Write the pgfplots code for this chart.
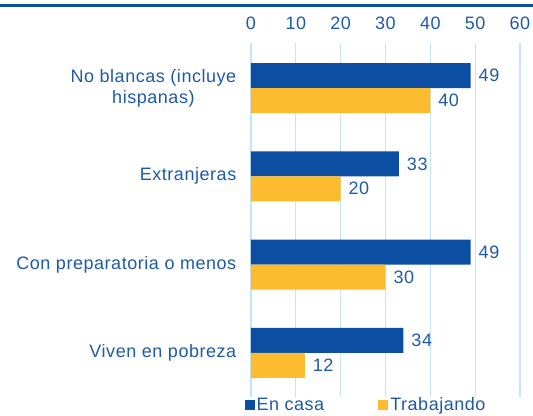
\documentclass[border=0pt]{standalone}
\usepackage{fontspec}
\setmainfont{Liberation Sans}[LetterSpace=3]
\usepackage{pgfplots}
\pgfplotsset{compat=1.18}

\definecolor{barblue}{HTML}{0B4EA2}
\definecolor{baryellow}{HTML}{FDBB2F}
\definecolor{txtblue}{HTML}{1E5AA8}
\definecolor{gridblue}{HTML}{C5E4F5}
\newcommand{\lbl}{\fontsize{13.5pt}{15.5pt}\selectfont}

\begin{document}
\begin{tikzpicture}
% top rule (picture is 533x416 px, 1px = 0.75pt)
\begin{scope}[x=0.75pt,y=-0.75pt]
  \draw[barblue, line width=2.4pt] (0,5.7) -- (533,5.7);
\end{scope}
\begin{axis}[
    at={(188.25pt,-297.75pt)}, anchor=south west,
    scale only axis,
    width=201.75pt, height=265.5pt,
    xbar, bar width=0.283,
    xmin=0, xmax=60, xtick distance=10,
    ymin=-0.51, ymax=3.5, y dir=reverse,
    ytick={0,1,2,3},
    yticklabels={{No blancas (incluye\\hispanas)}, Extranjeras, Con preparatoria o menos, Viven en pobreza},
    enlargelimits=false,
    axis line style={draw=none},
    major tick length=0pt,
    xticklabel pos=upper,
    xmajorgrids, ymajorgrids=false,
    grid style={gridblue, line width=0.9pt},
    /pgf/number format/assume math mode=true,
    tick label style={font=\lbl, text=txtblue},
    xticklabel style={yshift=6.75pt},
    yticklabel style={align=center, xshift=-7.5pt},
    nodes near coords,
    nodes near coords style={font=\lbl, text=txtblue, xshift=2.5pt},
    legend style={at={(-0.025,0.004)}, anchor=north west, draw=none, fill=none,
        inner sep=0pt, font=\lbl, text=txtblue, legend columns=2,
        nodes={inner sep=1.5pt},
        /tikz/every even column/.style={column sep=39pt}},
    legend image code/.code={\fill[#1] (0pt,-3.75pt) rectangle (7.5pt,3.75pt);},
]
\addplot[fill=barblue, draw=none, bar shift=-0.1415] coordinates {(49,0) (33,1) (49,2) (34,3)};
\addplot[fill=baryellow, draw=none, bar shift=0.1415] coordinates {(40,0) (20,1) (30,2) (12,3)};
\legend{En casa, Trabajando}
\end{axis}
\pgfresetboundingbox
\useasboundingbox (0,0) rectangle (399.75pt,-312pt);
\end{tikzpicture}
\end{document}
